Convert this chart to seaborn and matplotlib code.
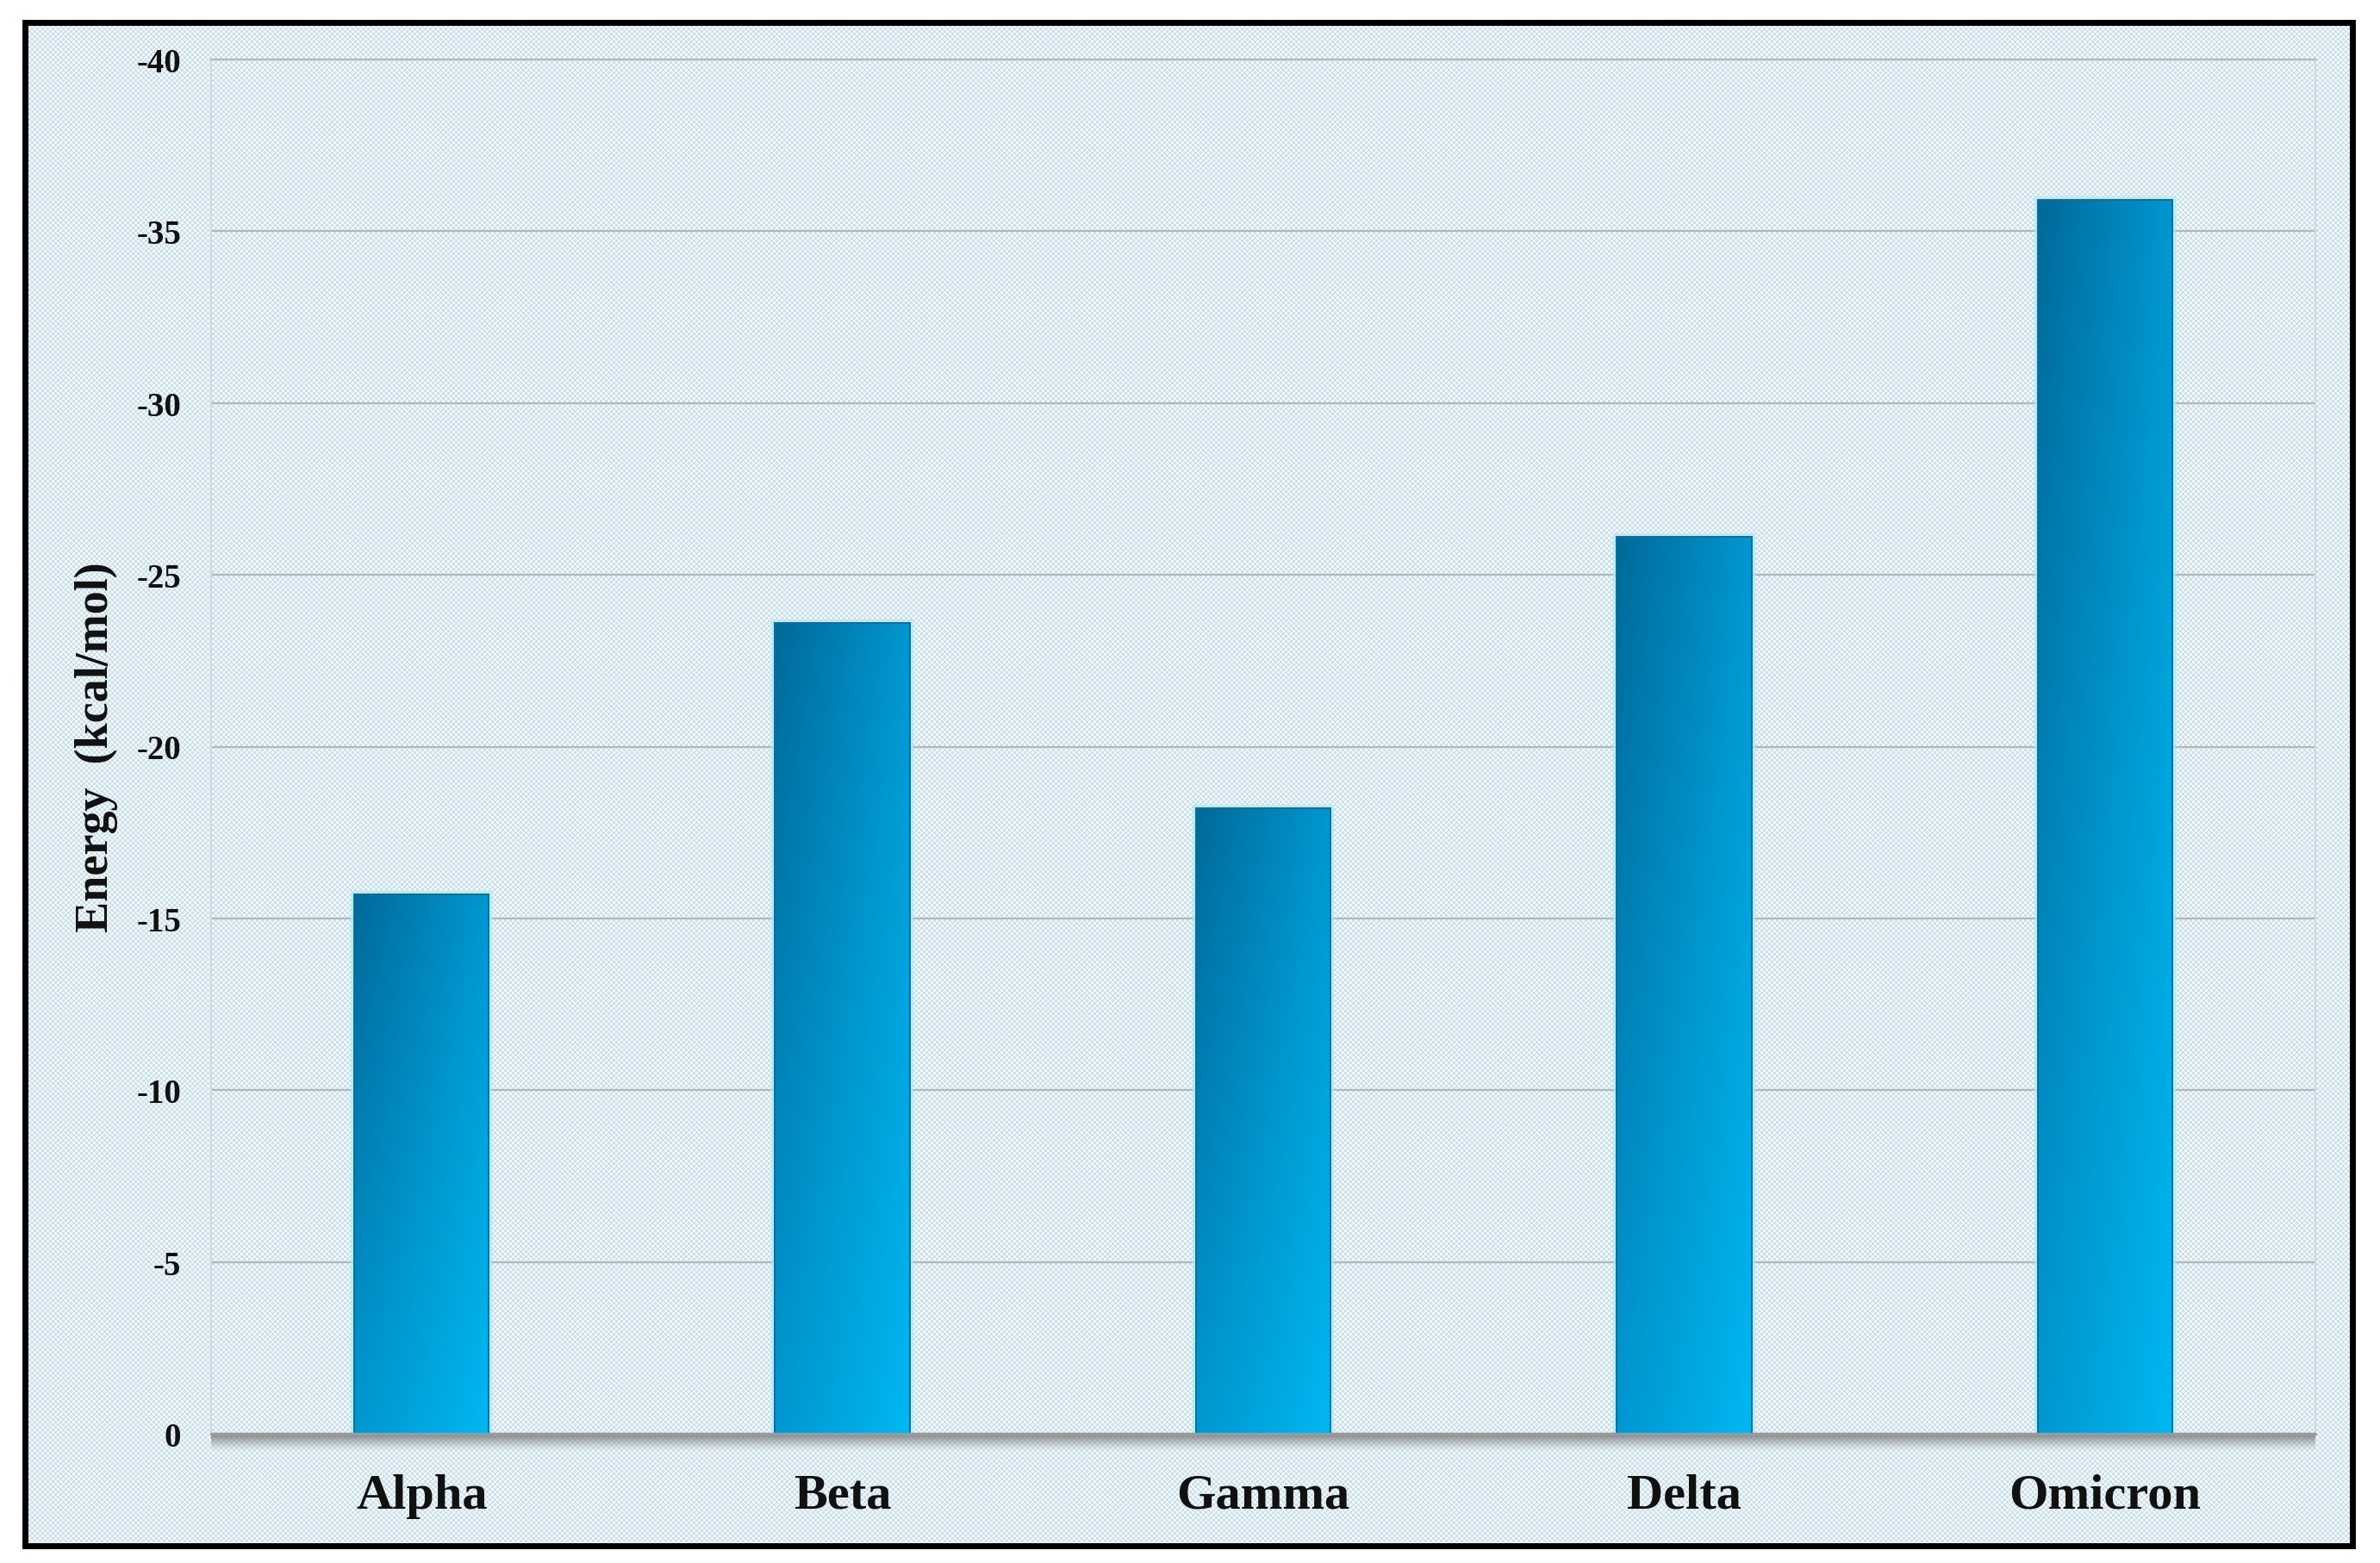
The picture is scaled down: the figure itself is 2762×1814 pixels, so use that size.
import numpy as np
import matplotlib
matplotlib.use('Agg')
import matplotlib.pyplot as plt
import seaborn as sns
from matplotlib.patches import Rectangle
from matplotlib.colors import to_rgb
import matplotlib.patheffects as pe

categories = ['Alpha', 'Beta', 'Gamma', 'Delta', 'Omicron']
energies = [-15.7, -23.6, -18.2, -26.1, -35.9]
yticks = [0, -5, -10, -15, -20, -25, -30, -35, -40]

sns.set_theme(style='white')
plt.rcParams['font.family'] = ['Liberation Serif', 'DejaVu Serif']
plt.rcParams['axes.unicode_minus'] = False

W, H = 2762, 1815
fig = plt.figure(figsize=(W / 100, H / 100), dpi=100, facecolor='white')

# checkered light-blue background inside the frame
yy, xx = np.mgrid[0:H, 0:W]
cell = 3
chk = ((xx // cell + yy // cell) % 2).astype(float)[..., None]
c_light = np.array(to_rgb('#eef9fd'))
c_dark = np.array(to_rgb('#cfdfe7'))
bg = c_light * (1 - chk) + c_dark * chk
inside = (xx >= 29) & (xx <= 2730) & (yy >= 27) & (yy <= 1795)
bg[~inside] = 1.0
fig.figimage(bg, xo=0, yo=0, origin='upper', zorder=-10)

# outer black frame
fig.patches.append(Rectangle((29 / W, 1 - 1795 / H), (2730 - 29) / W, (1795 - 27) / H,
                             transform=fig.transFigure, facecolor='none',
                             edgecolor='black', linewidth=5, zorder=-5))

ax = fig.add_axes([245 / W, 150 / H, 2442 / W, 1595 / H])
ax.set_zorder(5)
ax.set_facecolor('none')

sns.barplot(x=categories, y=energies, ax=ax, width=0.32, color='#0090c8',
            edgecolor='#0b6f9c', linewidth=1.2, zorder=3)

ax.set_ylim(0, -40)
ax.set_xlim(-0.5, 4.5)
ax.set_yticks(yticks)
ax.yaxis.grid(True, color='#b3b7bb', linewidth=1.6)
ax.xaxis.grid(False)
ax.set_axisbelow(True)

# gradient fill of bars
tl, tr, bl, br = [np.array(to_rgb(c)) for c in ('#006a99', '#0097d1', '#0097d1', '#00b7f1')]
n = 64
u = np.linspace(0, 1, n)[None, :, None]
v = np.linspace(0, 1, n)[:, None, None]
grad = (1 - v) * ((1 - u) * tl + u * tr) + v * ((1 - u) * bl + u * br)
for p in list(ax.patches):
    x0, w = p.get_x(), p.get_width()
    h = p.get_height()
    p.set_path_effects([pe.Stroke(linewidth=6, foreground='#a8ecff', alpha=0.7), pe.Normal()])
    im = ax.imshow(grad, extent=(x0, x0 + w, 0, h), aspect='auto', origin='upper',
                   interpolation='bilinear', zorder=3.1)
    im.set_clip_path(p)
    ax.add_patch(Rectangle((x0, 0), w, h, fill=False, edgecolor='#0b6f9c',
                           linewidth=1.3, zorder=3.2))
ax.set_ylim(0, -40)
ax.set_xlim(-0.5, 4.5)

# baseline with shadow
shadow = np.linspace(0, 1, 32)[:, None]
shadow_rgba = np.zeros((32, 2, 4))
shadow_rgba[..., :3] = 0.45
shadow_rgba[..., 3] = (1 - shadow) ** 1.3 * 0.85
ax.imshow(shadow_rgba, extent=(0, 1, -0.013, 0), transform=ax.transAxes,
          aspect='auto', origin='upper', interpolation='bilinear', clip_on=False, zorder=2)
ax.set_ylim(0, -40)
ax.set_xlim(-0.5, 4.5)
ax.axhline(0, color='#9a9a9a', linewidth=2.5, zorder=4, clip_on=False)

for side in ('left', 'right'):
    ax.spines[side].set_visible(True)
    ax.spines[side].set_color('#cfd9e1')
    ax.spines[side].set_linewidth(1.5)
ax.spines['top'].set_visible(True)
ax.spines['top'].set_color('#b3b7bb')
ax.spines['top'].set_linewidth(1.6)
ax.spines['bottom'].set_visible(False)

ax.tick_params(axis='y', labelsize=28, pad=25, length=0, colors='#111111')
ax.tick_params(axis='x', labelsize=42, pad=33, length=0, colors='#111111')
for lab in ax.get_yticklabels() + ax.get_xticklabels():
    lab.set_fontweight('bold')

ax.set_xlabel('')
ax.set_ylabel('Energy  (kcal/mol)', fontsize=39, fontweight='bold', color='#111111')
ax.yaxis.set_label_coords((137 - 245) / 2442, 0.5)

fig.savefig('out.png', dpi=100, facecolor='white')
